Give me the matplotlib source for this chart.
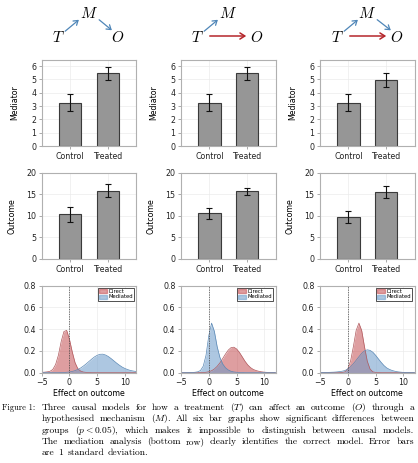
import matplotlib
matplotlib.use("Agg")
import matplotlib.pyplot as plt
from matplotlib.patches import FancyArrowPatch, Patch
import numpy as np

# ---- data ----
groups = ["Control", "Treated"]
mediator_mean = [[3.25, 5.45], [3.25, 5.45], [3.25, 4.95]]
mediator_sd = [[0.63, 0.50], [0.63, 0.50], [0.63, 0.55]]
outcome_mean = [[10.35, 15.8], [10.6, 15.65], [9.75, 15.5]]
outcome_sd = [[1.8, 1.5], [1.25, 0.88], [1.47, 1.38]]

dens_x = np.arange(-5, 12.5, 0.5)
direct_dens = [
    [0.003, 0.005, 0.008, 0.013, 0.03, 0.075, 0.16, 0.285, 0.378, 0.388,
     0.305, 0.19, 0.092, 0.037, 0.015, 0.006, 0.003, 0.001,
     0, 0, 0, 0, 0, 0, 0, 0, 0, 0, 0, 0, 0, 0, 0, 0, 0],
    [0, 0, 0, 0, 0, 0, 0, 0.001, 0.002, 0.004,
     0.009, 0.018, 0.034, 0.058, 0.090, 0.130, 0.171, 0.207, 0.230, 0.234,
     0.218, 0.187, 0.147, 0.106, 0.072, 0.047, 0.030, 0.020, 0.013, 0.008,
     0.005, 0.003, 0.002, 0.001, 0.0],
    [0, 0, 0, 0, 0, 0, 0, 0, 0.003, 0.008,
     0.034, 0.107, 0.239, 0.387, 0.455, 0.387, 0.239, 0.107, 0.034, 0.008,
     0.003, 0.001, 0, 0, 0, 0, 0, 0, 0, 0, 0, 0, 0, 0, 0],
]
mediated_dens = [
    [0, 0, 0, 0, 0, 0, 0, 0.001, 0.002, 0.004,
     0.007, 0.012, 0.019, 0.030, 0.043, 0.061, 0.081, 0.103, 0.125, 0.145,
     0.160, 0.169, 0.170, 0.162, 0.148, 0.129, 0.108, 0.087, 0.068, 0.051,
     0.038, 0.028, 0.020, 0.015, 0.011],
    [0, 0, 0, 0.001, 0.002, 0.004, 0.008, 0.02, 0.06, 0.16,
     0.34, 0.455, 0.38, 0.24, 0.14, 0.08, 0.045, 0.025, 0.013, 0.007,
     0.004, 0.002, 0.001, 0, 0, 0, 0, 0, 0, 0, 0, 0, 0, 0, 0],
    [0.001, 0.002, 0.002, 0.003, 0.004, 0.005, 0.007, 0.010, 0.014, 0.020,
     0.035, 0.055, 0.082, 0.114, 0.147, 0.178, 0.200, 0.210, 0.205, 0.188,
     0.160, 0.127, 0.095, 0.066, 0.044, 0.030, 0.020, 0.013, 0.008, 0.005,
     0.003, 0.002, 0.001, 0.0, 0.0],
]

caption = [
    ["Three", "causal", "models", "for", "how", "a", "treatment", "($T$)", "can",
     "affect", "an", "outcome", "($O$)", "through", "a"],
    ["hypothesised", "mechanism", "($M$).", "All", "six", "bar", "graphs", "show",
     "significant", "differences", "between"],
    ["groups", "($p<0.05$),", "which", "makes", "it", "impossible", "to",
     "distinguish", "between", "causal", "models."],
    ["The", "mediation", "analysis", "(bottom", "row)", "clearly", "identifies",
     "the", "correct", "model.", "Error", "bars"],
    ["are", "1", "standard", "deviation."],
]

plt.rcParams["mathtext.fontset"] = "cm"
W, H = 418, 463
fig = plt.figure(figsize=(W / 100, H / 100), dpi=100)

col_left = [41.7, 181, 320]
ax_w = 94.5
rows = [(59.5, 146), (172.7, 259), (285.5, 372.7)]

def make_ax(col, row):
    top, bot = rows[row]
    return fig.add_axes([col_left[col] / W, 1 - bot / H, ax_w / W, (bot - top) / H])

def style(ax):
    for s in ax.spines.values():
        s.set_color("#b0b0b0")
        s.set_linewidth(0.8)
    ax.tick_params(labelsize=5.7, length=2, width=0.5, color="#888888",
                   labelcolor="#222222", pad=2)
    ax.grid(True, color="#ebebeb", linewidth=0.5)
    ax.set_axisbelow(True)

fs = 5.7
red = "#c44e52"
blue = "#6a9ac9"

for i in range(3):
    for r, (means, sds, lab, top) in enumerate([
            (mediator_mean, mediator_sd, "Mediator", 6.5),
            (outcome_mean, outcome_sd, "Outcome", 20)]):
        ax = make_ax(i, r)
        style(ax)
        ax.bar([0, 1], means[i], width=0.6, color="#969696", edgecolor="#3a3a3a",
               linewidth=0.8, yerr=sds[i], capsize=2,
               error_kw=dict(elinewidth=0.8, capthick=0.8, ecolor="#111111"))
        ax.set_xlim(-0.75, 1.75)
        ax.set_ylim(0, top)
        ax.set_xticks([0, 1])
        ax.set_xticklabels(groups)
        if r == 0:
            ax.set_yticks(range(7))
        else:
            ax.set_yticks([0, 5, 10, 15, 20])
        ax.set_ylabel(lab, fontsize=fs, labelpad=8.5 if r == 0 else 7)

    ax = make_ax(i, 2)
    style(ax)
    ax.fill_between(dens_x, direct_dens[i], color=red, alpha=0.55, linewidth=0)
    ax.plot(dens_x, direct_dens[i], color="#b05a5e", linewidth=0.5)
    ax.fill_between(dens_x, mediated_dens[i], color=blue, alpha=0.55, linewidth=0)
    ax.plot(dens_x, mediated_dens[i], color="#5a88b5", linewidth=0.5)
    ax.axvline(0, color="#444444", linestyle="--", linewidth=0.5, dashes=(2, 1.5))
    ax.set_xlim(-5, 12)
    ax.set_ylim(0, 0.8)
    ax.set_xticks([-5, 0, 5, 10])
    ax.set_yticks([0, 0.2, 0.4, 0.6, 0.8])
    ax.set_xlabel("Effect on outcome", fontsize=fs, labelpad=1.5)
    leg = ax.legend(handles=[Patch(color=red, alpha=0.55, label="Direct"),
                             Patch(color=blue, alpha=0.55, label="Mediated")],
                    loc="upper right", fontsize=3.8, fancybox=False,
                    edgecolor="#333333", framealpha=1, borderpad=0.25,
                    labelspacing=0.1, handlelength=1.4, handleheight=0.8,
                    handletextpad=0.3, borderaxespad=0.4)
    leg.get_frame().set_linewidth(0.6)

# ---- causal diagrams and caption, drawn in pixel coordinates ----
over = fig.add_axes([0, 0, 1, 1])
over.set_xlim(0, W)
over.set_ylim(H, 0)
over.axis("off")

node_T = [58, 197, 337]
node_M = [89, 228, 367]
node_O = [118, 257, 397]
has_direct = [False, True, True]
has_mo = [True, False, True]
arrow_blue = "#4f86b8"
arrow_red = "#b5262b"
for i in range(3):
    over.text(node_T[i], 37, "$T$", fontsize=11, ha="center", va="center")
    over.text(node_M[i], 14, "$M$", fontsize=11, ha="center", va="center")
    over.text(node_O[i], 37, "$O$", fontsize=11, ha="center", va="center")
    over.add_patch(FancyArrowPatch((node_T[i] + 5, 33), (node_T[i] + 23, 18),
                                   arrowstyle="->,head_length=3,head_width=2",
                                   color=arrow_blue, linewidth=0.9))
    if has_mo[i]:
        over.add_patch(FancyArrowPatch((node_M[i] + 8, 18), (node_O[i] - 4, 32),
                                       arrowstyle="->,head_length=3,head_width=2",
                                       color=arrow_blue, linewidth=0.9))
    if has_direct[i]:
        over.add_patch(FancyArrowPatch((node_T[i] + 10, 36), (node_O[i] - 8, 36),
                                       arrowstyle="->,head_length=3.5,head_width=2.2",
                                       color=arrow_red, linewidth=1.1))

# caption: font sized so the justified lines keep near-natural word spacing
renderer = fig.canvas.get_renderer()
x0, x1 = 42, 414
base_fs = 6.0

def text_width(s, size):
    t = over.text(0, 0, s, fontsize=size, family="cmr10")
    w = t.get_window_extent(renderer).width
    t.remove()
    return w

space_base = text_width("a a", base_fs) - 2 * text_width("a", base_fs)
natural = [sum(text_width(w, base_fs) for w in ws) + space_base * (len(ws) - 1)
           for ws in caption[:4]]
cap_fs = base_fs * (x1 - x0) / np.mean(natural) * 0.94
space_w = space_base * cap_fs / base_fs
label_fs = min(cap_fs, base_fs * 33 / text_width("Figure 1:", base_fs))

cap_y = [410, 421.3, 432.6, 443.9, 455.2]
over.text(2, cap_y[0], "Figure 1:", fontsize=label_fs, family="cmr10", va="baseline")
for li, words in enumerate(caption):
    texts = [over.text(0, cap_y[li], w, fontsize=cap_fs, family="cmr10",
                       va="baseline") for w in words]
    widths = [t.get_window_extent(renderer).width for t in texts]
    if li < len(caption) - 1:
        gap = (x1 - x0 - sum(widths)) / (len(words) - 1)
    else:
        gap = space_w * 1.2
    x = x0
    for t, w in zip(texts, widths):
        t.set_x(x)
        x += w + gap

fig.savefig("out.png", dpi=100)
